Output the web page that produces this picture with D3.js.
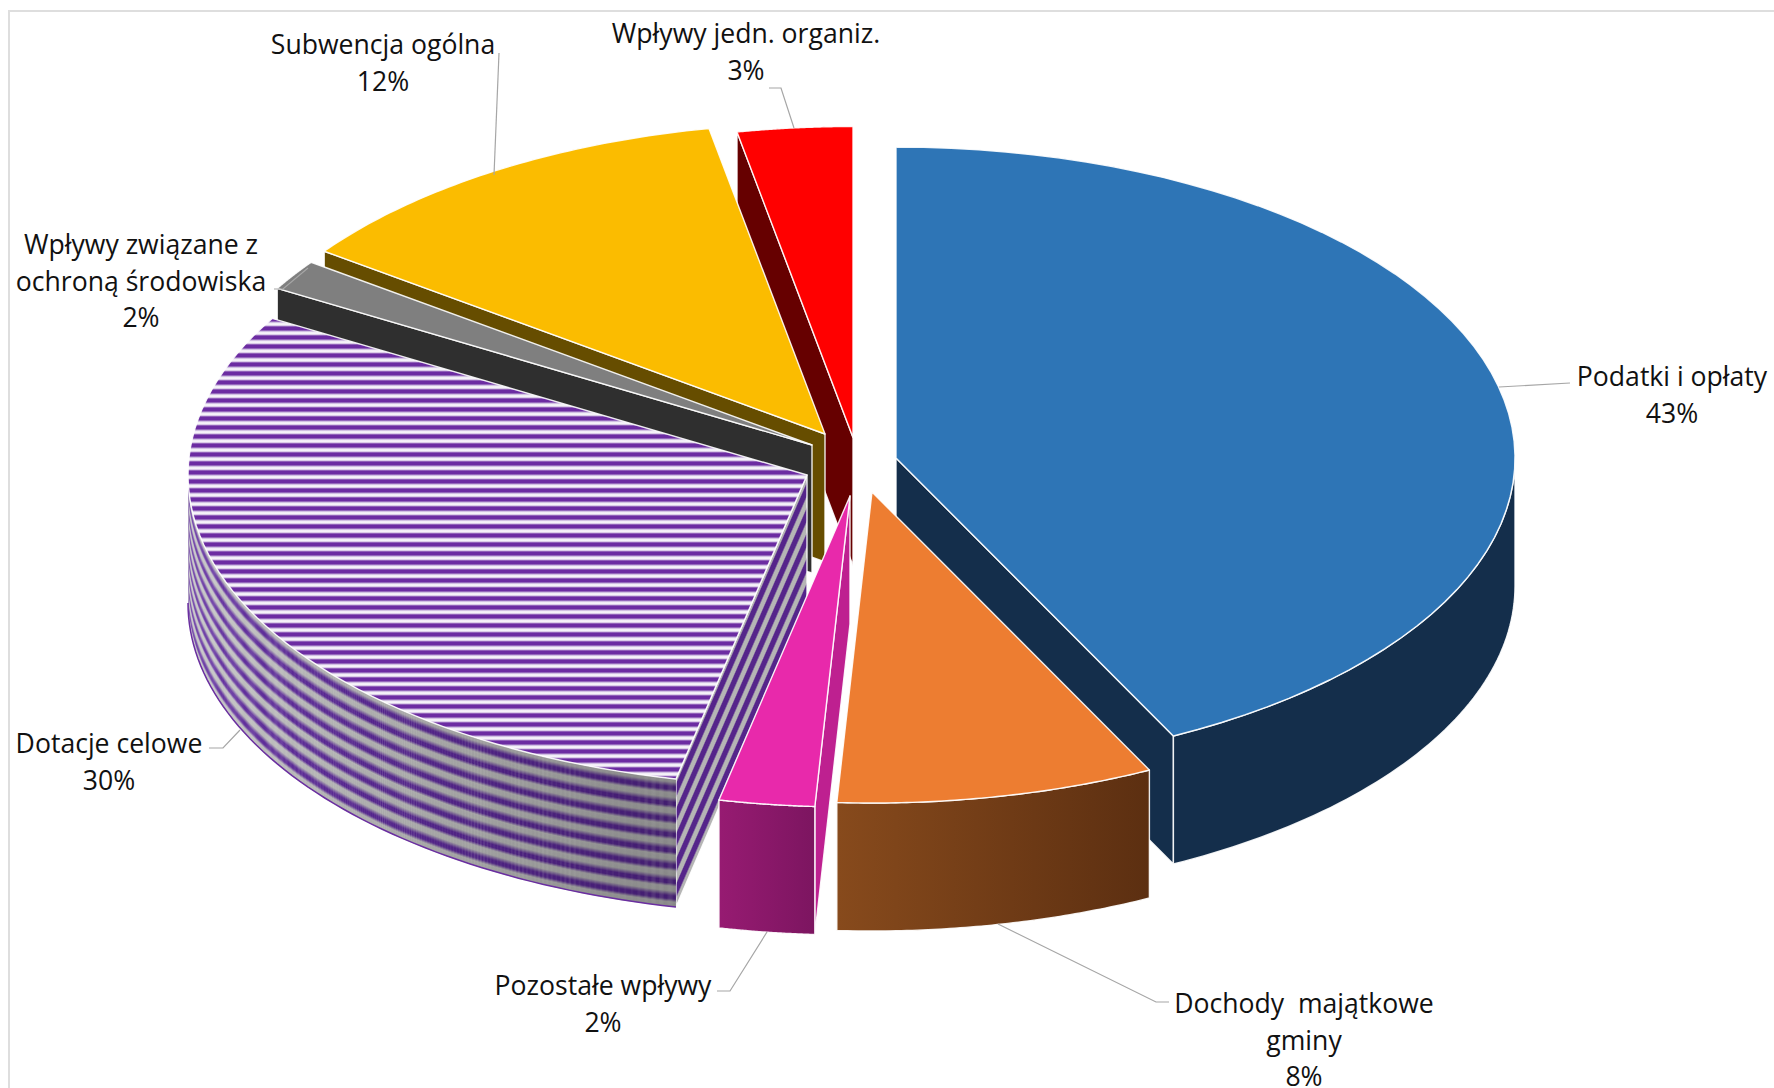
<!DOCTYPE html>
<html>
<head>
<meta charset="utf-8">
<script src="https://cdn.jsdelivr.net/npm/d3@7"></script>
<style>
  html, body { margin: 0; background: #fff; }
  svg { display: block; }
  text { font-family: "Open Sans", sans-serif; font-size: 26.6px; fill: #111; }
</style>
</head>
<body>
<svg width="1774" height="1088"></svg>
<script>
// slice shares in percent
const categories = [
  ["Podatki i opłaty"],
  ["Dochody  majątkowe", "gminy"],
  ["Pozostałe wpływy"],
  ["Dotacje celowe"],
  ["Wpływy związane z", "ochroną środowiska"],
  ["Subwencja ogólna"],
  ["Wpływy jedn. organiz."],
];
const shares = [42.6, 8.3, 2.49, 30, 1.6, 12, 3];

const topColors = ["#2e75b6", "#ed7d31", "#e829ab", "url(#stripesTop)", "#7f7f7f", "#fbbc00", "#ff0000"];
const sideColors = ["#142e4b", "#5e3012", "#be2090", "url(#stripesSide)", "#2f2f2f", "#664d00", "#660000"];
const wallColors = ["url(#wallBlue)", "url(#wallOrange)", "url(#wallPink)", "none", "#2f2f2f", "#664d00", "#660000"];

// where each exploded slice has its tip
const tips = [[896, 458], [872, 492], [850, 496], [807, 475], [812, 445], [825, 434], [853, 437.5]];
const labelPos = [[1672, 386], [1304, 1013], [603, 995], [109, 753], [141, 254], [383, 54], [746, 43]];
const leaders = [
  [[1499, 387], [1570, 383]],
  [[998, 924], [1156, 1002], [1169, 1002]],
  [[767, 932], [730, 991], [717, 991]],
  [[240, 730], [223, 748], [209, 748]],
  [[308, 268], [283, 289], [274, 289]],
  [[494, 175], [499, 53]],
  [[794, 128], [781, 88], [769, 88]],
];

const rx = 619, ry = 311, depth = 128;

const svg = d3.select("svg");
const defs = svg.append("defs");

function gradient(id, stops, attrs) {
  const g = defs.append("linearGradient").attr("id", id).attr("gradientUnits", "userSpaceOnUse");
  Object.entries(attrs).forEach(([k, v]) => g.attr(k, v));
  stops.forEach(([o, c, a]) => {
    const st = g.append("stop").attr("offset", o).attr("stop-color", c);
    if (a !== undefined) st.attr("stop-opacity", a);
  });
}
gradient("wallBlue", [[0, "#142e4b"], [1, "#142e4b"]], { x1: 1170, x2: 1520, y1: 0, y2: 0 });
gradient("wallOrange", [[0, "#874a1c"], [1, "#5c2f11"]], { x1: 838, x2: 1150, y1: 0, y2: 0 });
gradient("wallPink", [[0, "#971b72"], [1, "#7c1560"]], { x1: 718, x2: 816, y1: 0, y2: 0 });
gradient("wallShade", [[0, "#000", 0], [1, "#000", 0.3]], { x1: 190, x2: 675, y1: 0, y2: 0 });
gradient("stripesTop", [[0, "#6c2ca2"], [0.32, "#6c2ca2"], [0.48, "#cbb9df"], [0.64, "#fbfafd"], [0.8, "#f0ebf6"], [1, "#6c2ca2"]],
  { x1: 0, x2: 0, y1: 3, y2: 12, spreadMethod: "repeat" });
gradient("stripesSide", [[0, "#55258a"], [0.4, "#55258a"], [0.55, "#b5b5b5"], [0.88, "#b5b5b5"], [1, "#55258a"]],
  { x1: 0, x2: 9.2, y1: 0, y2: 4, spreadMethod: "repeat" });

const line = d3.line();
const pie = d3.pie().value((d) => d).sort(null);
const slices = pie(shares);

const at = (i, a, dy = 0) => [
  tips[i][0] + rx * Math.sin(a),
  tips[i][1] - ry * Math.cos(a) + dy,
];
// sampled outer edge of a slice
const arcPoints = (i, a0, a1, dy = 0) =>
  d3.range(0, 61).map((k) => at(i, a0 + ((a1 - a0) * k) / 60, dy));

function radialSide(i, a) {
  const [x, y] = tips[i];
  return line([[x, y], at(i, a), at(i, a, depth), [x, y + depth]]) + "Z";
}

// back slices first, then the front ones on top
const drawOrder = [6, 5, 4, 3, 0, 1, 2];
drawOrder.forEach((i) => {
  const s = slices[i];
  const g = svg.append("g");
  const edge = (sel) => sel.attr("stroke", "#fff").attr("stroke-opacity", 0.9).attr("stroke-width", 1.4).attr("stroke-linejoin", "round");

  // side faces turned towards the viewer
  if (Math.cos(s.startAngle - Math.PI / 2) < -0.01) {
    g.append("path").attr("d", radialSide(i, s.startAngle)).attr("fill", sideColors[i]).call(edge);
  }
  if (Math.cos(s.endAngle + Math.PI / 2) < -0.01) {
    g.append("path").attr("d", radialSide(i, s.endAngle)).attr("fill", sideColors[i]).call(edge);
  }

  // outer wall, only the part facing front
  const a0 = Math.max(s.startAngle, Math.PI / 2);
  const a1 = Math.min(s.endAngle, (3 * Math.PI) / 2);
  if (a1 > a0) {
    const wall = line(arcPoints(i, a0, a1).concat(arcPoints(i, a1, a0, depth))) + "Z";
    if (i === 3) {
      // wavy bands running round the wall
      const band = d3.scaleLinear().domain([0, 0.3, 0.6, 0.8, 1]).range(["#c4c4c4", "#c0c0c0", "#5f2a9e", "#5f2a9e", "#c4c4c4"]);
      d3.range(0, depth, 1).forEach((dy) => {
        g.append("path")
          .attr("d", line(arcPoints(i, a0, a1, dy).concat(arcPoints(i, a1, a0, dy + 1.4))) + "Z")
          .attr("fill", band(((dy + 2) % 15.6) / 15.6));
      });
      g.append("path").attr("d", wall).attr("fill", "url(#wallShade)");
      g.append("path").attr("d", line(arcPoints(i, a0, a1, depth)))
        .attr("fill", "none").attr("stroke", "#6a2ea0").attr("stroke-width", 1.5);
    } else {
      g.append("path").attr("d", wall).attr("fill", wallColors[i]).call(edge);
    }
  }

  // top face
  g.append("path")
    .attr("d", line([tips[i]].concat(arcPoints(i, s.startAngle, s.endAngle))) + "Z")
    .attr("fill", topColors[i]).call(edge);
});

// chart frame
svg.append("path")
  .attr("d", "M9,1088V11H1774")
  .attr("fill", "none").attr("stroke", "#dedede").attr("stroke-width", 2);

// leader lines
svg.selectAll("path.leader").data(leaders).enter().append("path")
  .attr("class", "leader").attr("d", (d) => line(d))
  .attr("fill", "none").attr("stroke", "#a6a6a6").attr("stroke-width", 1.2);

// labels: name lines, then the rounded share
categories.forEach((lines, i) => {
  const all = lines.concat(d3.format(".0f")(shares[i]) + "%");
  svg.append("text")
    .attr("text-anchor", "middle")
    .selectAll("tspan").data(all).enter().append("tspan")
    .attr("x", labelPos[i][0])
    .attr("y", (d, k) => labelPos[i][1] + k * 36.6)
    .text((d) => d)
    .style("white-space", "pre");
});
</script>
</body>
</html>
